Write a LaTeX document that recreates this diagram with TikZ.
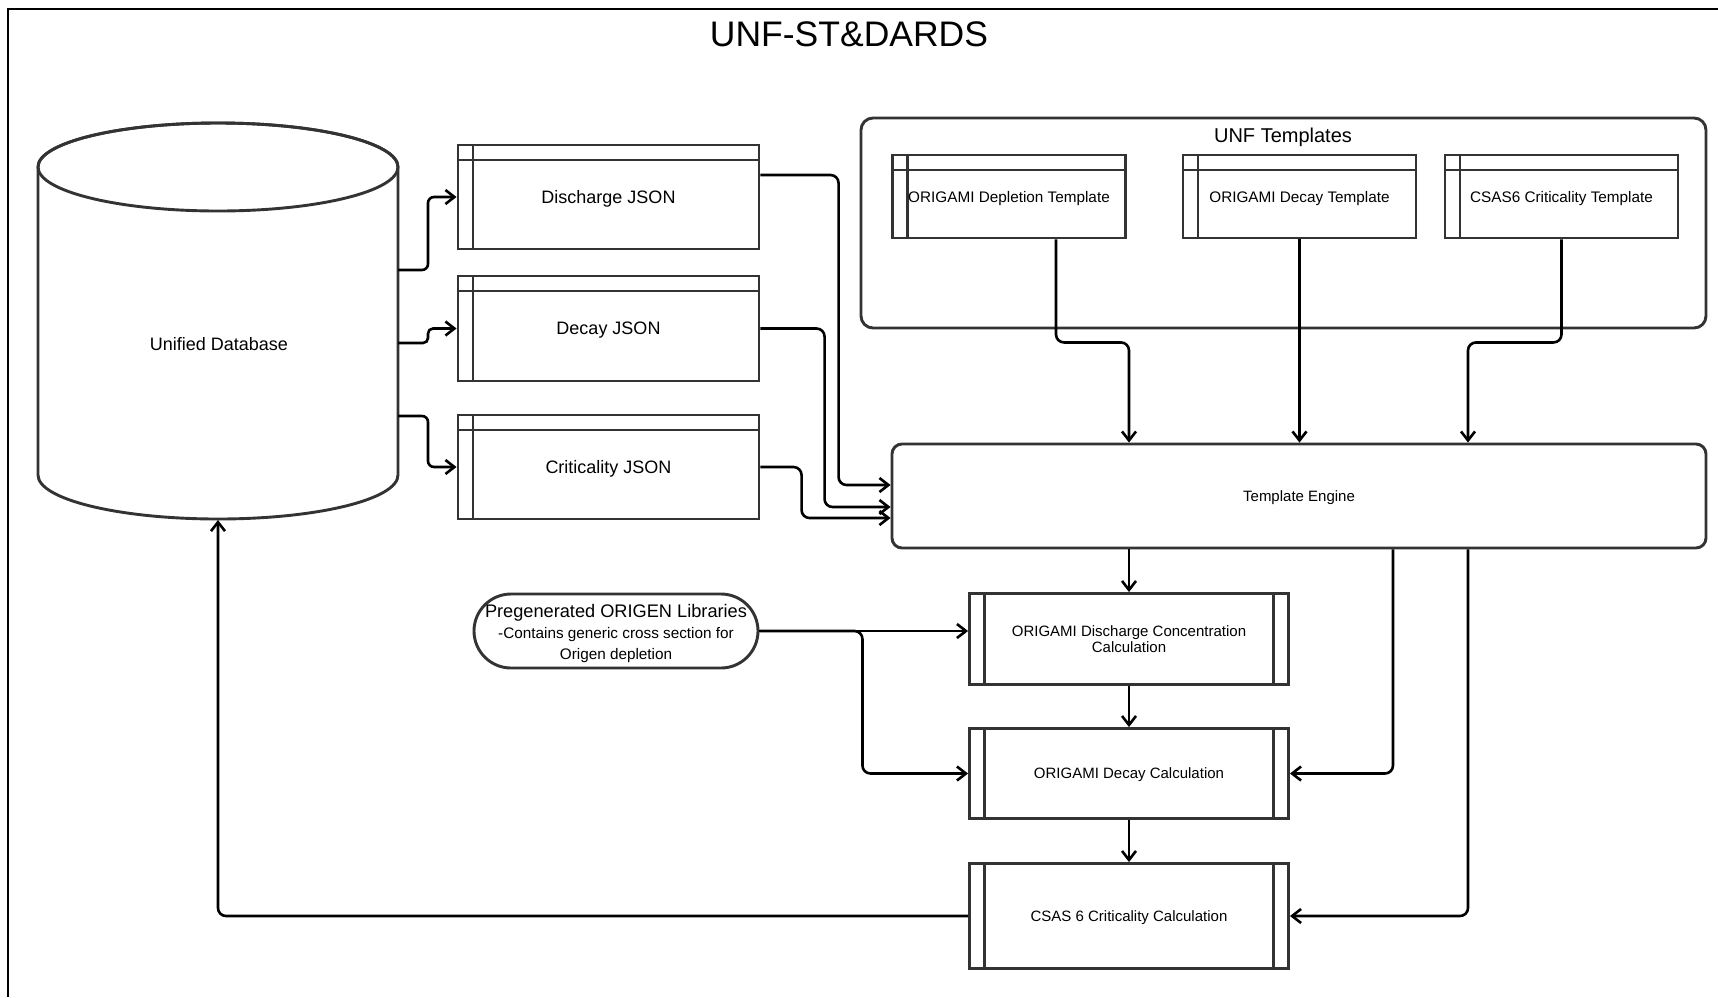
\documentclass[tikz,border=0pt]{standalone}
\usepackage{fontspec}
\setmainfont{Liberation Sans}
\usetikzlibrary{arrows.meta,calc}
\definecolor{boxc}{HTML}{333333}
\begin{document}
\begin{tikzpicture}[x=1pt,y=-1pt,
  box/.style={draw=boxc, line width=2.9pt, fill=white, inner sep=0pt, align=center},
  jsonbox/.style={box, minimum width=301pt, minimum height=104pt, text depth=0pt,
    font=\fontsize{18}{21}\selectfont,
    path picture={
      \draw[boxc, line width=2.9pt] ([xshift=15pt]path picture bounding box.north west) -- ([xshift=15pt]path picture bounding box.south west);
      \draw[boxc, line width=2.9pt] ([yshift=-15pt]path picture bounding box.north west) -- ([yshift=-15pt]path picture bounding box.north east);}},
  tplbox/.style={jsonbox, minimum width=233pt, minimum height=83pt, font=\fontsize{15.3}{18}\selectfont},
  procbox/.style={box, minimum width=319pt, font=\fontsize{15}{16.5}\selectfont,
    path picture={
      \draw[boxc, line width=2.9pt] ([xshift=15pt]path picture bounding box.north west) -- ([xshift=15pt]path picture bounding box.south west);
      \draw[boxc, line width=2.9pt] ([xshift=-15pt]path picture bounding box.north east) -- ([xshift=-15pt]path picture bounding box.south east);}},
  conn/.style={draw=black, line width=2.6pt, rounded corners=8pt, -{Straight Barb[length=9pt,width=14pt]}}
]
\useasboundingbox[fill=white] (0,0) rectangle (1718,997);
\draw[line width=2pt] (8,997) -- (8,9) -- (1718,9);
\node[anchor=base, font=\fontsize{35.5}{40}\selectfont] (title) at (849,46) {UNF-ST\&DARDS};

% cylinder
\draw[boxc, line width=2.9pt, fill=white] (38,167) -- (38,475) arc[start angle=180, end angle=360, x radius=180pt, y radius=44pt] -- (398,167) arc[start angle=0, end angle=180, x radius=180pt, y radius=44pt] -- cycle;
\draw[boxc, line width=2.9pt] (218,167) ellipse[x radius=180pt, y radius=44pt];
\node[anchor=base, font=\fontsize{18}{21}\selectfont] (db) at (219,350) {Unified Database};
\coordinate (db1) at (398,270);
\coordinate (db2) at (398,343);
\coordinate (db3) at (398,416);
\coordinate (dbbot) at (218,520);

% JSON boxes
\node[jsonbox] (dj) at (608.5,197) {Discharge JSON};
\node[jsonbox, minimum height=105pt] (dy) at (608.5,328.5) {Decay JSON};
\node[jsonbox] (dc) at (608.5,467) {Criticality JSON};

% templates container
\node[draw=boxc, line width=2.9pt, rounded corners=12pt, minimum width=845pt, minimum height=210pt, inner sep=0pt] (unf) at (1283.5,223) {};
\node[anchor=base, font=\fontsize{20}{24}\selectfont] (unflbl) at (1283,142) {UNF Templates};
\node[tplbox] (tdep) at (1009,196.5) {ORIGAMI Depletion Template};
\node[tplbox] (tdec) at (1299.5,196.5) {ORIGAMI Decay Template};
\node[tplbox] (tcs) at (1561.5,196.5) {CSAS6 Criticality Template};

% template engine
\node[box, rounded corners=10pt, minimum width=814pt, minimum height=104pt, text depth=0pt, font=\fontsize{15}{18}\selectfont] (te) at (1299,496) {Template Engine};

% ORIGEN pill
\node[box, rounded corners=37pt, minimum width=284pt, minimum height=74pt, font=\fontsize{15.3}{21}\selectfont] (orig) at (616,631)
  {{\fontsize{18.2}{21}\selectfont\rule{0pt}{19pt}Pregenerated ORIGEN Libraries}\\-Contains generic cross section for\\Origen depletion};

% process boxes
\node[procbox, minimum height=91pt] (cdis) at (1129,639) {ORIGAMI Discharge Concentration\\Calculation};
\node[procbox, minimum height=90pt, text depth=0pt] (cdec) at (1129,773.5) {ORIGAMI Decay Calculation};
\node[procbox, minimum height=105pt, text depth=0pt] (ccs) at (1129,916) {CSAS 6 Criticality Calculation};

% connectors: database -> JSON
\draw[conn, rounded corners=6pt] (db1) -- ++(30,0) |- (dj.west);
\draw[conn, rounded corners=5pt] (db2) -- ++(30,0) |- (dy.west);
\draw[conn, rounded corners=6pt] (db3) -- ++(30,0) |- (dc.west);

% JSON -> template engine
\draw[conn] ([yshift=22pt]dj.east) -| ([xshift=-52pt,yshift=11pt]te.west) -- ([yshift=11pt]te.west);
\draw[conn] (dy.east) -| ([xshift=-66pt,yshift=-11pt]te.west) -- ([yshift=-11pt]te.west);
\draw[conn] (dc.east) -| ([xshift=-89pt,yshift=-22pt]te.west) -- ([yshift=-22pt]te.west);

% templates -> template engine
\draw[conn] ([xshift=47pt]tdep.south) -- ++(0,103) -| (te.north -| cdis.north);
\draw[conn] (tdec.south) -- (tdec.south |- te.north);
\draw[conn] (tcs.south) -- ++(0,103) -| ([xshift=169pt]te.north);

% template engine -> calculations
\draw[conn] (te.south -| cdis.north) -- (cdis.north);
\draw[conn] (cdis.south) -- (cdec.north);
\draw[conn] (cdec.south) -- (ccs.north);
\draw[conn] ([xshift=94pt]te.south) |- (cdec.east);
\draw[conn] ([xshift=169pt]te.south) |- (ccs.east);

% ORIGEN -> calculations
\draw[conn] (orig.east) -- (orig.east -| cdis.west);
\draw[conn] (orig.east) -- ++(103,0) |- (cdec.west);

% feedback to database
\draw[conn] (ccs.west) -| (dbbot);
\end{tikzpicture}
\end{document}
